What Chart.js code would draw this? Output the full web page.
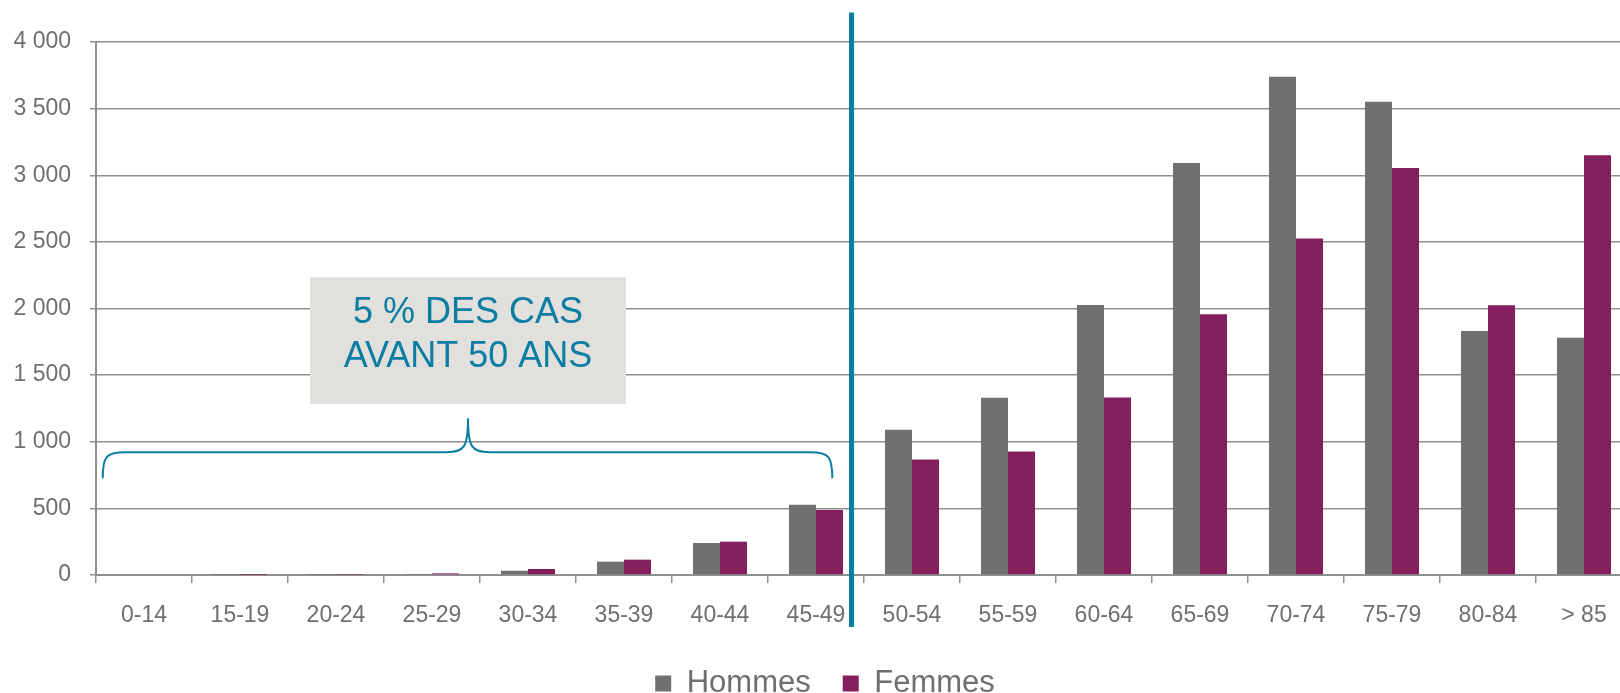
<!DOCTYPE html>
<html><head><meta charset="utf-8">
<script src="https://cdn.jsdelivr.net/npm/chart.js@4"></script>
<style>
html,body{margin:0;padding:0;overflow:hidden;background:#fff;width:1620px;height:693px;}
#wrap{position:absolute;left:0;top:0;width:1632px;height:693px;}
</style></head><body>
<div id="wrap"><canvas id="c" width="1632" height="693"></canvas></div>
<script>
// ---- data ----
const categories = ['0-14','15-19','20-24','25-29','30-34','35-39','40-44','45-49','50-54','55-59','60-64','65-69','70-74','75-79','80-84','> 85'];
const hommes = [0, 1, 2, 8, 32, 100, 240, 527, 1090, 1330, 2027, 3092, 3740, 3552, 1832, 1780];
const femmes = [0, 1, 2, 12, 45, 115, 250, 487, 867, 927, 1332, 1957, 2525, 3055, 2025, 3150];
const seriesNames = ['Hommes', 'Femmes'];
const yTickValues = [0, 500, 1000, 1500, 2000, 2500, 3000, 3500, 4000];
const annotationLines = ['5 % DES CAS', 'AVANT 50 ANS'];

// ---- styles / annotation placement (in scale units) ----
const GREY = '#6f7072', PURPLE = '#841e5c', BLUE = '#0a7da3', TXT = '#6f6f6f', GRID = '#8f8f8f';
const FONT = '"Liberation Sans", Arial, sans-serif';
const ann = {
  box: {x0: 1.73, x1: 5.02, y0: 2235, y1: 1283},
  textX: 3.375, textY: [1890, 1560],
  brace: {x0: -0.43, x1: 7.17, xm: 3.375, yEnd: 727, yMid: 922, yPeak: 1177},
  vline: {x: 7.37, y0: 4222, y1: -390}
};

const fmt = v => String(v).replace(/\B(?=(\d{3})+(?!\d))/g, ' ');

const overlay = {
  id: 'overlay',
  beforeLayout(chart) {
    const lg = chart.legend;
    if (lg && !lg._patched) {
      const f = lg.fit;
      lg.fit = function () { f.call(this); this.height = 57; };
      lg._patched = true;
    }
  },
  afterLayout(chart) {
    if (chart.legend) chart.legend.left = 18;
  },
  afterDraw(chart) {
    const xs = chart.scales.x, ys = chart.scales.y, ctx = chart.ctx;
    const X = v => xs.getPixelForValue(v), Y = v => ys.getPixelForValue(v);
    ctx.save();
    // box
    const b = ann.box;
    ctx.fillStyle = '#e1e0dd';
    ctx.fillRect(X(b.x0), Y(b.y0), X(b.x1) - X(b.x0), Y(b.y1) - Y(b.y0));
    ctx.fillStyle = BLUE;
    ctx.font = '36px ' + FONT;
    ctx.textAlign = 'center';
    ctx.textBaseline = 'alphabetic';
    annotationLines.forEach((t, i) => ctx.fillText(t, X(ann.textX), Y(ann.textY[i])));
    // brace
    const br = ann.brace;
    const x0 = X(br.x0), x1 = X(br.x1), xm = X(br.xm);
    const ye = Y(br.yEnd), yb = Y(br.yMid), yp = Y(br.yPeak);
    const r = 22;
    ctx.strokeStyle = BLUE;
    ctx.lineWidth = 2;
    ctx.beginPath();
    ctx.moveTo(x0, ye);
    ctx.bezierCurveTo(x0, yb + 4, x0 + 4, yb, x0 + r, yb);
    ctx.lineTo(xm - r, yb);
    ctx.bezierCurveTo(xm - 4, yb, xm, yb - 4, xm, yp);
    ctx.bezierCurveTo(xm, yb - 4, xm + 4, yb, xm + r, yb);
    ctx.lineTo(x1 - r, yb);
    ctx.bezierCurveTo(x1 - 4, yb, x1, yb + 4, x1, ye);
    ctx.stroke();
    // vertical line
    const vl = ann.vline;
    ctx.lineWidth = 5;
    ctx.beginPath();
    ctx.moveTo(X(vl.x), Y(vl.y0));
    ctx.lineTo(X(vl.x), Y(vl.y1));
    ctx.stroke();
    ctx.restore();
  }
};

new Chart(document.getElementById('c'), {
  type: 'bar',
  data: {
    labels: categories,
    datasets: [
      {label: seriesNames[0], data: hommes, backgroundColor: GREY, borderWidth: 0},
      {label: seriesNames[1], data: femmes, backgroundColor: PURPLE, borderWidth: 0}
    ]
  },
  options: {
    responsive: false,
    animation: false,
    devicePixelRatio: 1,
    categoryPercentage: 0.5625,
    barPercentage: 1,
    layout: {padding: {left: 0, right: 0, top: 42, bottom: 0}},
    plugins: {
      tooltip: {enabled: false},
      legend: {
        position: 'bottom',
        labels: {
          font: {family: FONT, size: 31},
          color: TXT,
          boxWidth: 16, boxHeight: 16,
          padding: 32
        }
      }
    },
    scales: {
      x: {
        offset: true,
        grid: {display: true, drawOnChartArea: false, offset: true, color: GRID, lineWidth: 1.5, tickLength: 8},
        border: {display: true, color: GRID, width: 2},
        ticks: {color: TXT, font: {family: FONT, size: 23}, padding: 19, maxRotation: 0, autoSkip: false},
        afterFit(s) { s.height = 61; }
      },
      y: {
        min: 0, max: 4000,
        afterBuildTicks(s) { s.ticks = yTickValues.map(v => ({value: v})); },
        grid: {color: GRID, lineWidth: 1.5, tickLength: 6},
        border: {display: true, color: GRID, width: 2},
        ticks: {color: TXT, font: {family: FONT, size: 23}, padding: 19, callback: v => fmt(v)},
        afterFit(s) { s.width = 96; }
      }
    }
  },
  plugins: [overlay]
});
</script>
</body></html>
